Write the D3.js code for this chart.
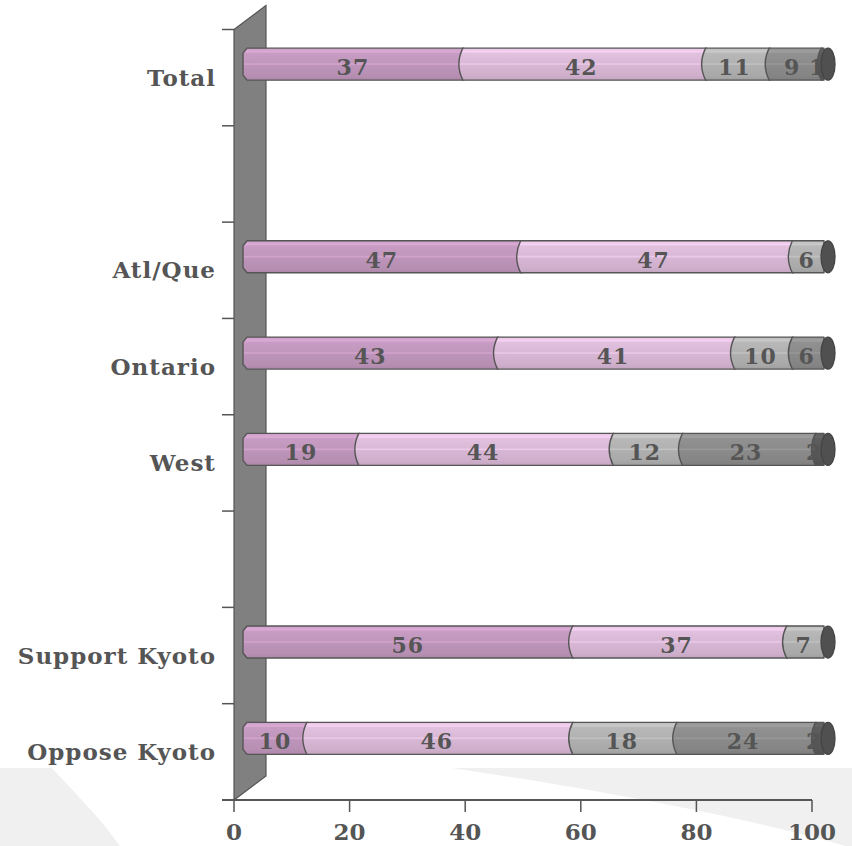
<!DOCTYPE html>
<html><head><meta charset="utf-8">
<script src="https://cdn.jsdelivr.net/npm/d3@7"></script>
<style>body{margin:0;background:#fff}</style>
</head><body>
<svg id="chart" width="852" height="846"></svg>
<script>
// ---- data ----
const categories = ["Total", "", "Atl/Que", "Ontario", "West", "", "Support Kyoto", "Oppose Kyoto"];
const series1 = [37, 0, 47, 43, 19, 0, 56, 10];
const series2 = [42, 0, 47, 41, 44, 0, 37, 46];
const series3 = [11, 0, 6, 10, 12, 0, 7, 18];
const series4 = [9, 0, 0, 6, 23, 0, 0, 24];
const series5 = [1, 0, 0, 0, 2, 0, 0, 2];
const xTicks = [0, 20, 40, 60, 80, 100];
const seriesColors = ["#c197bd", "#dab9d7", "#b2b2b2", "#8c8c8c", "#5a5a5a"];

const allSeries = [series1, series2, series3, series4, series5];
const svg = d3.select("#chart");
const W = 852, H = 846;

// background swoosh
svg.append("rect").attr("x", 0).attr("y", 768).attr("width", W).attr("height", H - 768).attr("fill", "#f0f0f0");
svg.append("path")
  .attr("d", "M52,768 L452,768 C600,790 750,818 845,846 L120,846 C98,815 72,790 52,768 Z")
  .attr("fill", "#ffffff");

const x = d3.scaleLinear().domain([0, 100]).range([234, 812]);
const y = d3.scaleBand().domain(d3.range(categories.length)).range([29.5, 800]).padding(0);

const depthX = 32, depthY = 24;   // wall depth
const dx = 12, dy = -13.5;        // bar offset
const barH = 32;

// gradients
const defs = svg.append("defs");
seriesColors.forEach((c, i) => {
  const g = defs.append("linearGradient").attr("id", "g" + i)
    .attr("x1", 0).attr("y1", 0).attr("x2", 0).attr("y2", 1);
  const cc = d3.color(c);
  const stops = [
    [0, cc.brighter(0.15)], [0.12, cc.brighter(0.35)], [0.16, cc.brighter(0.1)],
    [0.45, cc], [0.5, cc.brighter(0.25)], [0.54, cc.darker(0.05)],
    [0.85, cc.darker(0.15)], [1, cc.darker(0.3)]
  ];
  stops.forEach(([o, col]) => g.append("stop").attr("offset", o).attr("stop-color", col.formatHex()));
});

// wall
const x0 = x(0), yTop = y.range()[0], yBot = y.range()[1];
svg.append("path")
  .attr("d", `M${x0},${yTop} L${x0 + depthX},${yTop - depthY} L${x0 + depthX},${yBot - depthY} L${x0},${yBot} Z`)
  .attr("fill", "#808080").attr("stroke", "#555").attr("stroke-width", 1.2);

// y ticks
const yBounds = d3.range(categories.length).map(i => y(i));
svg.selectAll(".ytick").data(yBounds).join("line")
  .attr("x1", x0 - 12).attr("x2", x0).attr("y1", d => d).attr("y2", d => d)
  .attr("stroke", "#555").attr("stroke-width", 1.5);

// x axis
svg.append("line").attr("x1", x0 - 12).attr("x2", x(100)).attr("y1", yBot).attr("y2", yBot)
  .attr("stroke", "#555").attr("stroke-width", 2);
svg.selectAll(".xtick").data(xTicks).join("line")
  .attr("x1", d => x(d)).attr("x2", d => x(d)).attr("y1", yBot).attr("y2", yBot + 12)
  .attr("stroke", "#555").attr("stroke-width", 1.5);
svg.selectAll(".xlab").data(xTicks).join("text")
  .attr("x", d => x(d)).attr("y", 840).attr("text-anchor", "middle")
  .attr("font-family", "DejaVu Serif").attr("font-weight", "bold").attr("font-size", 23)
  .attr("fill", "#555").text(d => d);

// category labels
svg.selectAll(".ylab").data(categories).join("text")
  .attr("x", 216).attr("y", (d, i) => y(i) + y.bandwidth() / 2 + 8)
  .attr("text-anchor", "end")
  .attr("font-family", "DejaVu Serif").attr("font-weight", "bold").attr("font-size", 23)
  .attr("letter-spacing", 1)
  .attr("fill", "#555").text(d => d);

// bars
categories.forEach((cat, ci) => {
  const vals = allSeries.map(s => s[ci]);
  if (d3.sum(vals) === 0) return;
  const cy = y(ci) + y.bandwidth() / 2 + dy;
  const t = cy - barH / 2, b = cy + barH / 2;
  const g = svg.append("g");
  let cum = 0;
  const segs = [];
  vals.forEach((v, si) => {
    if (v > 0) { segs.push({ si, v, start: cum, end: cum + v }); }
    cum += v;
  });
  segs.forEach((s, k) => {
    const xs = x(s.start) + dx, xe = x(s.end) + dx;
    const last = k === segs.length - 1;
    const right = last ? xe : xe + 4;
    let d;
    if (k === 0) {
      const l = x(0) + 9;
      d = `M${l + 4},${t} L${right},${t} L${right},${b} L${l + 4},${b} L${l},${b - 5} L${l},${t + 5} Z`;
    } else {
      d = `M${xs + 3},${t} L${right},${t} L${right},${b} L${xs + 3},${b} Q${xs - 5},${cy} ${xs + 3},${t} Z`;
    }
    g.append("path").attr("d", d).attr("fill", `url(#g${s.si})`)
      .attr("stroke", "#555").attr("stroke-width", 1.4).attr("stroke-linejoin", "round");
  });
  segs.forEach(s => {
    g.append("text").attr("x", x((s.start + s.end) / 2) + dx - (s.v <= 2 ? 4 : 0)).attr("y", cy + 11)
      .attr("text-anchor", "middle")
      .attr("font-family", "DejaVu Serif").attr("font-weight", "bold").attr("font-size", 22)
      .attr("letter-spacing", 1)
      .attr("fill", "#555").text(s.v);
  });
  // end cap
  const xe = x(cum) + dx;
  g.append("ellipse").attr("cx", xe + 4).attr("cy", cy).attr("rx", 7).attr("ry", barH / 2)
    .attr("fill", "#505050").attr("stroke", "#444").attr("stroke-width", 1.3);
});
</script>
</body></html>
